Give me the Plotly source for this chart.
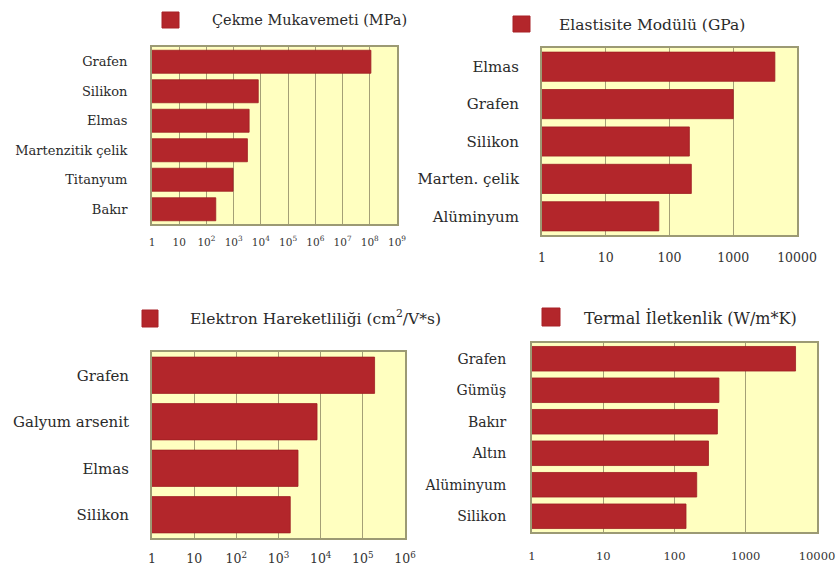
import plotly.graph_objects as go

# --- data -------------------------------------------------------------
tensile_labels = ["Grafen", "Silikon", "Elmas", "Martenzitik çelik", "Titanyum", "Bakır"]
tensile_values = [1.1e8, 8000, 3700, 3200, 950, 220]

modulus_labels = ["Elmas", "Grafen", "Silikon", "Marten. çelik", "Alüminyum"]
modulus_values = [4500, 1000, 205, 220, 68]

mobility_labels = ["Grafen", "Galyum arsenit", "Elmas", "Silikon"]
mobility_values = [1.9e5, 8200, 2900, 1900]

thermal_labels = ["Grafen", "Gümüş", "Bakır", "Altın", "Alüminyum", "Silikon"]
thermal_values = [5000, 420, 400, 300, 205, 145]

titles = [
    "Çekme Mukavemeti (MPa)",
    "Elastisite Modülü (GPa)",
    "Elektron Hareketliliği (cm<sup>2</sup>/V*s)",
    "Termal İletkenlik (W/m*K)",
]

pow_ticks_9 = ["1", "10"] + [f"10<sup>{k}</sup>" for k in range(2, 10)]
pow_ticks_6 = ["1", "10"] + [f"10<sup>{k}</sup>" for k in range(2, 7)]
plain_ticks_4 = ["1", "10", "100", "1000", "10000"]

# --- styling ----------------------------------------------------------
W, H = 836, 574
BAR = "#B3262B"
BG = "#FFFFC0"
GRID = "#A4A076"
FRAME = "#9C9A74"
FONT = "DejaVu Serif"


def px_x(v):
    return v / W


def px_y(v):
    return 1 - v / H


panels = [
    dict(labels=tensile_labels, values=tensile_values, x=(152, 397), y=(47, 224),
         dec=9, ticktext=pow_ticks_9, lsize=13, tsize=10.5, lstand=20, tstand=7),
    dict(labels=modulus_labels, values=modulus_values, x=(542, 797), y=(48, 235),
         dec=4, ticktext=plain_ticks_4, lsize=15, tsize=12.5, lstand=18, tstand=10),
    dict(labels=mobility_labels, values=mobility_values, x=(152, 405), y=(352, 538),
         dec=6, ticktext=pow_ticks_6, lsize=15, tsize=12.5, lstand=18, tstand=8),
    dict(labels=thermal_labels, values=thermal_values, x=(532, 817), y=(343, 532),
         dec=4, ticktext=plain_ticks_4, lsize=14, tsize=11.5, lstand=21, tstand=12),
]

fig = go.Figure()

for i, p in enumerate(panels, start=1):
    sx = "" if i == 1 else str(i)
    fig.add_trace(go.Bar(
        x=p["values"], y=p["labels"], orientation="h",
        marker=dict(color=BAR, line=dict(color="#9E1E22", width=0.8)),
        xaxis="x" + sx, yaxis="y" + sx, showlegend=False,
        hovertemplate="%{y}: %{x}<extra></extra>",
    ))
    x0, x1 = p["x"]
    yt, yb = p["y"]
    fig.update_layout({
        f"xaxis{sx}": dict(
            domain=[px_x(x0), px_x(x1)], anchor="y" + sx, type="log",
            range=[0, p["dec"]], automargin=False,
            tickvals=[10 ** k for k in range(p["dec"] + 1)],
            ticktext=p["ticktext"],
            showgrid=True, gridcolor=GRID, gridwidth=1,
            showline=True, mirror=True, linecolor=FRAME, linewidth=2,
            ticks="outside", ticklen=p["tstand"], tickcolor="rgba(0,0,0,0)",
            tickfont=dict(family=FONT, size=p["tsize"], color="#333333"),
            zeroline=False, fixedrange=True,
        ),
        f"yaxis{sx}": dict(
            domain=[px_y(yb), px_y(yt)], anchor="x" + sx, type="category",
            autorange="reversed", automargin=False,
            showline=True, mirror=True, linecolor=FRAME, linewidth=2,
            showgrid=False,
            ticks="outside", ticklen=p["lstand"], tickcolor="rgba(0,0,0,0)",
            tickfont=dict(family=FONT, size=p["lsize"], color="#2a2a2a"),
            fixedrange=True,
        ),
    })

fig.update_layout(bargap=0.22)

# per-panel legend keys: red square + title text
legend_keys = [
    dict(sq=(162, 12, 179, 28), tx=210, ty=20, size=14.5),
    dict(sq=(513, 16, 530, 32), tx=557, ty=25, size=15.5),
    dict(sq=(142, 310, 158, 327), tx=188, ty=317, size=15.5),
    dict(sq=(542, 308, 560, 326), tx=582, ty=318, size=16),
]
for key, title in zip(legend_keys, titles):
    xa, ya, xb, yb = key["sq"]
    fig.add_shape(type="rect", xref="paper", yref="paper",
                  x0=px_x(xa), x1=px_x(xb), y0=px_y(yb), y1=px_y(ya),
                  fillcolor=BAR, line=dict(color="#A82026", width=1))
    fig.add_annotation(text=title, xref="paper", yref="paper",
                       x=px_x(key["tx"]), y=px_y(key["ty"]),
                       xanchor="left", yanchor="middle", showarrow=False,
                       font=dict(family=FONT, size=key["size"], color="#2a2a2a"))

fig.update_layout(
    width=W, height=H,
    margin=dict(l=0, r=0, t=0, b=0),
    paper_bgcolor="white",
    plot_bgcolor=BG,
    font=dict(family=FONT),
)

fig.write_html("out.html")
